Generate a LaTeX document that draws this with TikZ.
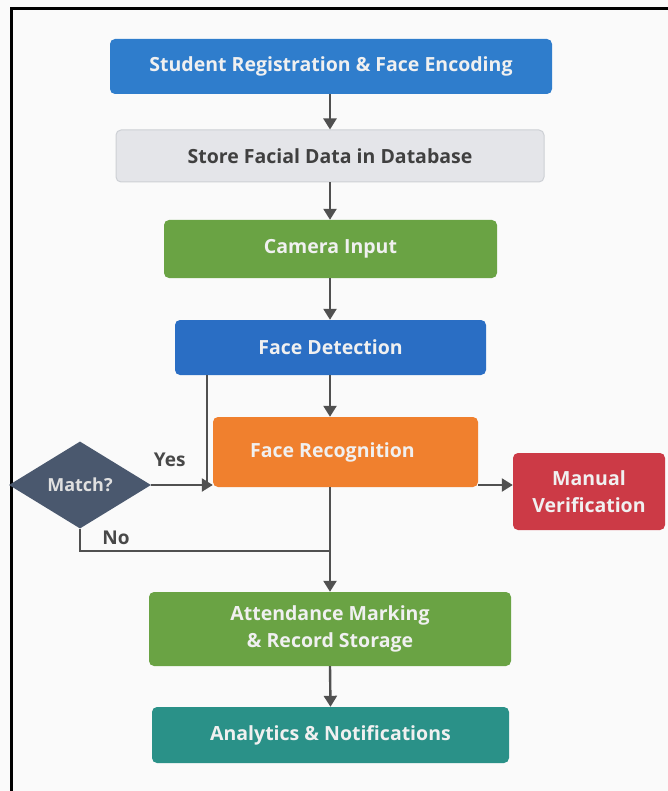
\documentclass[tikz,border=0pt]{standalone}
\usepackage{fontspec}
\setmainfont{Open Sans}
\usepackage{tikz}
\usetikzlibrary{arrows.meta,shapes.geometric}
\definecolor{regblue}{RGB}{47, 125, 204}
\definecolor{detblue}{RGB}{42, 110, 196}
\definecolor{storegray}{RGB}{228, 229, 233}
\definecolor{storeline}{RGB}{205, 208, 213}
\definecolor{camgreen}{RGB}{106, 163, 68}
\definecolor{recorange}{RGB}{240, 128, 46}
\definecolor{manred}{RGB}{204, 58, 70}
\definecolor{matchslate}{RGB}{74, 88, 110}
\definecolor{anateal}{RGB}{42, 145, 136}
\definecolor{flowgray}{RGB}{80, 80, 80}

\begin{document}
\begin{tikzpicture}[x=1pt, y=-1pt,
  box/.style={rectangle, rounded corners=5pt, inner sep=0pt, align=center,
    text=white!94!black, font=\fontsize{19.5}{27}\selectfont\bfseries},
  flow/.style={draw=flowgray, line width=2.4pt},
  arrow/.style={flow, -{Triangle[width=13pt,length=11pt]}},
  lbl/.style={font=\fontsize{19}{22}\selectfont\bfseries, text=flowgray!90!black}
]
\useasboundingbox (0,0) rectangle (668,791);
\fill[white!98!black] (0,0) rectangle (668,791);
% frame
\draw[line width=3pt] (668,9) -- (11,9) -- (11,791);

% main column
\node[box, fill=regblue, minimum width=442pt, minimum height=55pt] (reg) at (331,66.5) {Student Registration \& Face Encoding};
\node[box, fill=storegray, draw=storeline, line width=1pt, text=black!75, minimum width=428pt, minimum height=52pt] (store) at (330,156) {Store Facial Data in Database};
\node[box, fill=camgreen, minimum width=333pt, minimum height=58pt] (cam) at (330.5,249) {Camera Input};
\node[box, fill=detblue, minimum width=311pt, minimum height=55pt] (det) at (330.5,347.5) {Face Detection};
\node[box, fill=recorange, minimum width=265pt, minimum height=70pt] (rec) at (345.5,452) {\hspace*{-26pt}Face Recognition};
\node[box, fill=camgreen, minimum width=362pt, minimum height=74pt] (att) at (330,629) {Attendance Marking\\\& Record Storage};
\node[box, fill=anateal, minimum width=357pt, minimum height=56pt] (ana) at (330.5,735) {Analytics \& Notifications};

% side nodes
\node[box, fill=manred, minimum width=152pt, minimum height=77pt] (manual) at (589,491.5) {Manual\\Verification};
\node[diamond, fill=matchslate, text=white!88!black, inner sep=0pt, minimum width=142pt, minimum height=87pt,
  font=\fontsize{18}{20}\selectfont\bfseries] (match) at (80,485) {Match?};

\coordinate (yesjoin) at (207,485);
\coordinate (nojoin) at (330,551);

% connectors
\draw[arrow] (reg.south -| nojoin) -- (store.north -| nojoin);
\draw[arrow] (store.south -| nojoin) -- (cam.north -| nojoin);
\draw[arrow] (cam.south -| nojoin) -- (det.north -| nojoin);
\draw[arrow] (det.south -| nojoin) -- (rec.north -| nojoin);
\draw[flow] (det.south -| yesjoin) -- (yesjoin);
\draw[arrow] (match.east) -- (match.east -| rec.west) node[lbl, pos=0.3, above=14pt] {Yes};
\draw[arrow] (rec.east |- match.east) -- (manual.west |- match.east);
\draw[flow] (match.south) |- (nojoin) node[lbl, pos=0.6, above=2pt, xshift=-14pt] {No};
\draw[arrow] (rec.south -| nojoin) -- (att.north);
\draw[arrow] (att.south) -- (ana.north);
\end{tikzpicture}
\end{document}
